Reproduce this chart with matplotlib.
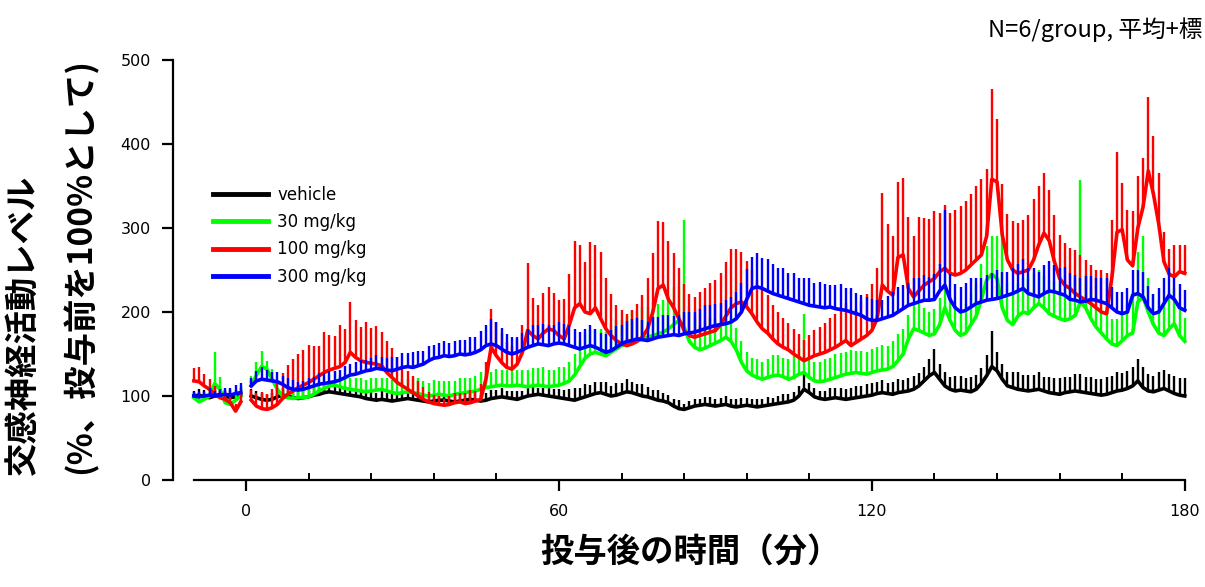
import numpy as np
import matplotlib
matplotlib.use("Agg")
import matplotlib.pyplot as plt
from matplotlib.ticker import FixedLocator

# ---------------- data ----------------
pre_t = list(range(-10, 0))
post_t = list(range(1, 181))

veh_pre = [100, 101, 99, 98, 100, 102, 100, 98, 99, 101]
veh_pre_err = [6, 7, 8, 10, 9, 8, 7, 9, 8, 8]
veh_post = [100, 98, 96, 95, 96, 99, 101, 100, 98, 97,
            98, 99, 101, 102, 104, 105, 104, 103, 102, 101,
            100, 99, 97, 96, 95, 96, 95, 94, 95, 96,
            97, 96, 95, 94, 93, 94, 95, 95, 94, 93,
            94, 95, 96, 95, 94, 95, 97, 98, 99, 98,
            97, 96, 98, 100, 101, 102, 101, 100, 99, 98,
            97, 96, 95, 97, 99, 101, 103, 104, 102, 100,
            101, 103, 105, 104, 102, 100, 99, 97, 95, 94,
            92, 88, 85, 84, 86, 88, 89, 90, 89, 88,
            89, 90, 88, 87, 88, 89, 88, 87, 88, 89,
            90, 91, 92, 93, 95, 100, 108, 104, 99, 97,
            96, 97, 98, 97, 96, 97, 98, 99, 100, 101,
            103, 104, 103, 102, 104, 105, 106, 108, 112, 118,
            124, 128, 120, 112, 108, 106, 107, 106, 105, 108,
            115, 124, 135, 130, 120, 112, 110, 108, 107, 106,
            107, 108, 106, 104, 103, 102, 104, 105, 106, 105,
            104, 103, 102, 101, 102, 104, 106, 107, 109, 112,
            118, 110, 106, 105, 107, 109, 106, 103, 101, 100]
veh_post_err = [8, 8, 7, 6, 8, 10, 9, 7, 8, 8,
                9, 8, 10, 9, 10, 12, 10, 9, 10, 8,
                9, 8, 10, 9, 8, 10, 9, 8, 9, 10,
                8, 9, 10, 8, 9, 8, 10, 9, 8, 9,
                10, 8, 9, 10, 9, 8, 10, 9, 10, 8,
                9, 10, 8, 9, 10, 8, 9, 10, 9, 10,
                10, 12, 14, 12, 15, 12, 14, 13, 15, 12,
                14, 12, 15, 13, 12, 14, 12, 10, 12, 10,
                9, 8, 10, 7, 8, 9, 8, 9, 10, 8,
                9, 10, 8, 9, 10, 9, 8, 10, 9, 10,
                8, 9, 10, 9, 10, 12, 18, 12, 10, 9,
                10, 12, 11, 13, 12, 13, 14, 13, 14, 15,
                14, 15, 13, 15, 16, 14, 15, 16, 15, 17,
                20, 28, 18, 16, 15, 18, 17, 16, 18, 17,
                18, 25, 42, 22, 18, 17, 18, 20, 18, 19,
                18, 20, 17, 19, 18, 20, 19, 18, 20, 21,
                19, 20, 18, 19, 21, 20, 22, 20, 21, 22,
                26, 24, 20, 19, 21, 22, 20, 21, 20, 22]

g30_pre = [98, 93, 96, 100, 115, 108, 92, 90, 95, 100]
g30_pre_err = [5, 6, 8, 12, 37, 15, 8, 8, 10, 12]
g30_post = [112, 125, 135, 132, 120, 108, 100, 98, 97, 98,
            98, 99, 102, 106, 109, 112, 113, 111, 109, 108,
            107, 106, 105, 106, 107, 108, 106, 104, 103, 104,
            105, 104, 103, 101, 100, 101, 102, 101, 100, 102,
            103, 104, 105, 106, 108, 110, 111, 112, 113, 112,
            112, 113, 112, 111, 112, 113, 112, 111, 112, 113,
            115, 118, 125, 135, 145, 150, 152, 150, 148, 152,
            156, 160, 163, 165, 166, 168, 170, 172, 174, 176,
            180, 185, 190, 182, 165, 158, 155, 157, 160, 163,
            166, 170, 165, 155, 140, 130, 125, 122, 120, 122,
            124, 125, 123, 120, 122, 126, 128, 122, 118, 117,
            118, 120, 122, 124, 126, 127, 128, 127, 126, 128,
            130, 131, 132, 135, 142, 150, 168, 180, 178, 175,
            172, 174, 185, 205, 190, 178, 172, 175, 185, 195,
            215, 238, 245, 240, 205, 190, 185, 195, 200, 198,
            205, 210, 205, 198, 195, 192, 190, 192, 196, 212,
            205, 192, 182, 175, 168, 162, 160, 166, 172, 175,
            212, 218, 200, 185, 175, 172, 180, 186, 172, 165]
g30_post_err = [12, 15, 18, 10, 12, 10, 8, 8, 10, 10,
                10, 12, 10, 12, 14, 13, 15, 14, 12, 13,
                14, 15, 14, 16, 15, 14, 16, 15, 14, 16,
                15, 16, 18, 17, 15, 18, 16, 17, 18, 16,
                18, 17, 16, 18, 20, 19, 18, 20, 18, 19,
                20, 18, 19, 20, 21, 20, 22, 20, 19, 21,
                20, 22, 25, 30, 30, 28, 26, 30, 28, 32,
                35, 30, 32, 36, 34, 38, 36, 40, 35, 38,
                40, 45, 40, 128, 38, 35, 30, 32, 34, 30,
                32, 28, 30, 26, 25, 22, 20, 22, 20, 22,
                25, 24, 22, 24, 26, 30, 70, 25, 22, 24,
                26, 25, 28, 27, 26, 28, 25, 27, 26, 28,
                28, 30, 28, 30, 32, 30, 28, 30, 32, 30,
                28, 30, 32, 40, 30, 30, 32, 35, 38, 40,
                42, 40, 45, 50, 130, 45, 40, 38, 40, 42,
                42, 40, 38, 40, 42, 45, 40, 38, 42, 145,
                40, 38, 36, 34, 32, 30, 32, 34, 36, 50,
                60, 72, 40, 36, 38, 40, 45, 42, 30, 28]

g100_pre = [118, 117, 112, 108, 102, 98, 96, 92, 82, 93]
g100_pre_err = [15, 18, 14, 12, 10, 8, 10, 8, 8, 10]
g100_post = [95, 88, 85, 84, 86, 90, 97, 102, 106, 110,
             113, 116, 120, 124, 128, 131, 133, 135, 140, 152,
             146, 142, 140, 139, 138, 136, 128, 122, 116, 112,
             108, 104, 100, 96, 93, 91, 90, 89, 90, 92,
             93, 91, 92, 94, 96, 120, 158, 148, 140, 134,
             132, 138, 152, 178, 172, 168, 175, 180, 178, 172,
             168, 185, 205, 210, 200, 198, 205, 192, 180, 172,
             166, 162, 160, 162, 165, 170, 180, 200, 228, 232,
             215, 205, 192, 178, 172, 170, 172, 174, 176, 178,
             185, 195, 205, 210, 212, 206, 198, 188, 180, 175,
             168, 162, 158, 155, 150, 146, 142, 145, 148, 150,
             152, 155, 158, 162, 166, 160, 164, 168, 172, 178,
             192, 232, 225, 220, 265, 268, 228, 218, 225, 232,
             236, 240, 248, 252, 246, 244, 246, 250, 256, 262,
             268, 290, 358, 355, 292, 262, 250, 246, 248, 250,
             262, 280, 294, 285, 260, 240, 232, 228, 222, 218,
             214, 210, 205, 200, 198, 240, 295, 298, 262, 255,
             300, 325, 368, 340, 305, 260, 245, 242, 248, 246]
g100_post_err = [12, 15, 20, 18, 22, 25, 30, 35, 38, 40,
                 42, 45, 40, 35, 48, 42, 38, 50, 40, 60,
                 45, 40, 48, 42, 45, 40, 38, 35, 30, 25,
                 22, 20, 18, 15, 12, 10, 10, 8, 10, 12,
                 10, 12, 15, 12, 18, 20, 45, 40, 35, 30,
                 28, 30, 32, 80, 45, 40, 48, 50, 45, 42,
                 48, 60, 80, 70, 60, 85, 75, 80, 60, 50,
                 42, 40, 38, 40, 45, 50, 60, 70, 80, 75,
                 70, 65, 60, 55, 50, 48, 52, 55, 58, 60,
                 62, 65, 70, 65, 60, 55, 52, 50, 48, 45,
                 40, 38, 35, 32, 30, 28, 25, 28, 30, 32,
                 35, 38, 40, 42, 45, 42, 40, 45, 50, 55,
                 60, 110, 80, 70, 90, 92, 85, 72, 88, 80,
                 75, 80, 70, 75, 72, 78, 80, 82, 85, 88,
                 90, 80, 108, 75, 60, 55, 58, 60, 62, 65,
                 72, 70, 72, 60, 55, 52, 50, 48, 52, 50,
                 48, 46, 45, 50, 48, 70, 95, 55, 60, 65,
                 62, 58, 88, 70, 60, 35, 30, 38, 32, 34]

g300_pre = [100, 99, 100, 101, 100, 101, 102, 101, 103, 104]
g300_pre_err = [5, 6, 5, 8, 6, 7, 8, 9, 10, 12]
g300_post = [112, 118, 120, 119, 118, 117, 114, 110, 108, 107,
             108, 110, 112, 114, 115, 116, 117, 119, 122, 125,
             126, 128, 130, 131, 133, 132, 131, 130, 132, 134,
             135, 134, 136, 138, 142, 145, 146, 148, 147, 148,
             150, 149, 150, 152, 155, 160, 162, 160, 156, 152,
             150, 152, 155, 158, 160, 162, 161, 160, 162, 163,
             162, 160, 158, 156, 158, 160, 158, 155, 152, 154,
             158, 162, 165, 166, 168, 167, 166, 168, 170, 171,
             172, 173, 172, 174, 175, 176, 178, 180, 182, 184,
             185, 186, 188, 192, 200, 215, 228, 230, 228, 225,
             222, 220, 218, 216, 214, 212, 210, 208, 207, 206,
             205, 206, 204, 203, 202, 200, 198, 196, 192, 190,
             190, 192, 194, 196, 200, 204, 208, 210, 212, 214,
             214, 215, 225, 232, 215, 205, 200, 202, 206, 210,
             212, 214, 215, 216, 218, 220, 222, 225, 228, 222,
             220, 218, 222, 225, 224, 222, 220, 215, 214, 212,
             213, 215, 214, 212, 210, 205, 200, 198, 200, 220,
             222, 218, 205, 198, 200, 210, 220, 215, 205, 202]
g300_post_err = [10, 12, 14, 12, 10, 12, 10, 12, 11, 10,
                 10, 12, 11, 13, 12, 14, 13, 12, 14, 13,
                 14, 15, 13, 14, 16, 15, 14, 16, 15, 17,
                 16, 18, 17, 15, 18, 16, 17, 18, 16, 18,
                 17, 18, 20, 18, 22, 25, 30, 28, 25, 22,
                 20, 18, 20, 22, 24, 22, 25, 24, 22, 25,
                 24, 25, 22, 20, 22, 24, 22, 20, 22, 24,
                 25, 22, 24, 26, 25, 24, 22, 26, 24, 25,
                 24, 22, 24, 26, 25, 24, 26, 28, 26, 25,
                 26, 28, 30, 32, 34, 36, 38, 40, 36, 38,
                 35, 32, 34, 30, 32, 28, 30, 32, 28, 30,
                 28, 26, 28, 30, 26, 28, 25, 24, 26, 25,
                 24, 22, 25, 28, 30, 28, 26, 30, 28, 30,
                 28, 30, 32, 90, 30, 28, 30, 32, 34, 30,
                 28, 30, 32, 34, 30, 28, 30, 32, 35, 30,
                 32, 30, 34, 36, 32, 30, 34, 32, 30, 28,
                 30, 28, 26, 28, 30, 25, 24, 26, 28, 30,
                 28, 30, 26, 24, 28, 30, 32, 26, 28, 24]

labels = ["vehicle", "30 mg/kg", "100 mg/kg", "300 mg/kg"]
colors = ["#000000", "#00ff00", "#ff0000", "#0000ff"]
xticks_major = [0, 60, 120, 180]
yticks = [0, 100, 200, 300, 400, 500]

xlabel = "投与後の時間（分）"
ylabel1 = "交感神経活動レベル"
ylabel2 = "(%、投与前を100%として)"
note = "N=6/group, 平均+標"

# ---------------- figure ----------------
W, H = 1205, 587
fig = plt.figure(figsize=(W / 100, H / 100), dpi=100)
ax = fig.add_axes([173 / W, 107 / H, 1017 / W, 420 / H])
cjk = ["Noto Sans CJK JP", "DejaVu Sans"]
latin = ["DejaVu Sans"]

series = [
    (veh_pre, veh_pre_err, veh_post, veh_post_err),
    (g30_pre, g30_pre_err, g30_post, g30_post_err),
    (g100_pre, g100_pre_err, g100_post, g100_post_err),
    (g300_pre, g300_pre_err, g300_post, g300_post_err),
]
handles = []
for i, (pm, pe, qm, qe) in enumerate(series):
    c = colors[i]
    z = 2 + i
    for t, m, e in ((pre_t, pm, pe), (post_t, qm, qe)):
        cont = ax.errorbar(t, m, yerr=[np.zeros(len(e)), e], color=c,
                           lw=2.6, elinewidth=1.7, capsize=0, zorder=z)
    handles.append(cont[0])

ax.set_xlim(-14, 181)
ax.set_ylim(0, 500)
for s in ("top", "right"):
    ax.spines[s].set_visible(False)
ax.spines["left"].set_bounds(0, 500)
ax.spines["bottom"].set_bounds(-10, 180)
ax.spines["left"].set_linewidth(1.6)
ax.spines["bottom"].set_linewidth(1.6)

ax.set_yticks(yticks)
ax.set_yticklabels([str(v) for v in yticks])
ax.xaxis.set_major_locator(FixedLocator(xticks_major))
ax.set_xticklabels([str(v) for v in xticks_major])
ax.xaxis.set_minor_locator(FixedLocator([v for v in range(12, 180, 12) if v % 60 != 0]))
ax.tick_params(axis="y", direction="out", length=8, width=1.6, pad=8,
               labelsize=11.5)
ax.tick_params(axis="x", which="major", direction="out", length=8, width=1.6,
               pad=9, labelsize=11.5)
ax.tick_params(axis="x", which="minor", direction="in", length=5, width=1.4)
for lab in ax.get_xticklabels() + ax.get_yticklabels():
    lab.set_family(latin)

leg = ax.legend(handles, labels, loc="upper left",
                bbox_to_anchor=(213 / W, 1 - 186 / H), bbox_transform=fig.transFigure,
                frameon=False, handlelength=3.3, handletextpad=0.55,
                labelspacing=0.55, borderpad=0, borderaxespad=0,
                prop={"family": latin, "size": 12})
for ln in leg.get_lines():
    ln.set_linewidth(3.5)

fig.text(690 / W, 1 - 553 / H, xlabel, ha="center", va="center",
         fontsize=24, fontweight="bold", family=cjk)
fig.text(24 / W, 1 - 476 / H, ylabel1, ha="center", va="bottom",
         rotation=90, fontsize=24, fontweight="bold", family=cjk)
fig.text(80 / W, 1 - 474 / H, ylabel2, ha="center", va="bottom",
         rotation=90, fontsize=24, fontweight="bold", family=cjk)
fig.text(1202 / W, 1 - 30 / H, note, ha="right", va="center",
         fontsize=17, family=cjk)

fig.savefig("out.png", dpi=100)
